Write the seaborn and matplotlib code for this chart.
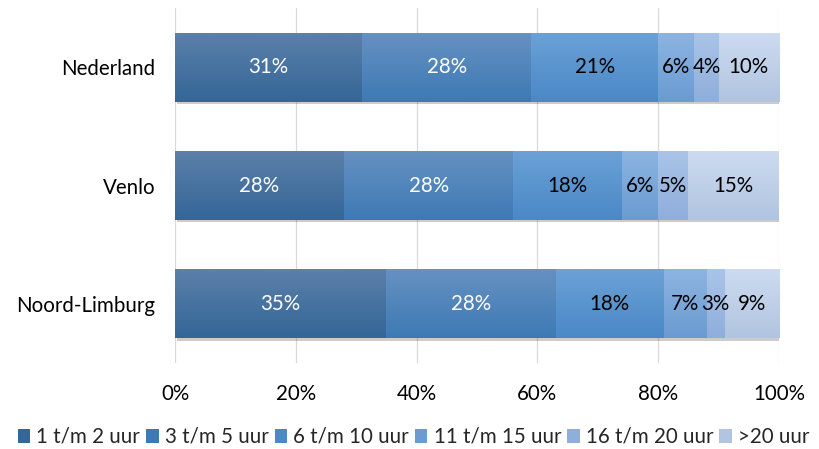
import numpy as np
import pandas as pd
import matplotlib
matplotlib.use("Agg")
import matplotlib.pyplot as plt
import matplotlib.patheffects as pe
from matplotlib.patches import Patch
from matplotlib.colors import to_rgb
import seaborn as sns

# Werkuren per week, verdeling in procenten
regions = ["Nederland", "Venlo", "Noord-Limburg"]
series = ["1 t/m 2 uur", "3 t/m 5 uur", "6 t/m 10 uur",
          "11 t/m 15 uur", "16 t/m 20 uur", ">20 uur"]
share_1_2 = [31, 28, 35]
share_3_5 = [28, 28, 28]
share_6_10 = [21, 18, 18]
share_11_15 = [6, 6, 7]
share_16_20 = [4, 5, 3]
share_20_plus = [10, 15, 9]
x_ticks = [0, 20, 40, 60, 80, 100]
x_tick_labels = ["0%", "20%", "40%", "60%", "80%", "100%"]

values = [share_1_2, share_3_5, share_6_10, share_11_15, share_16_20, share_20_plus]

# gradient colours per series (top -> bottom of each bar)
top_colors = ["#5b80a9", "#6691c1", "#6ba1d6", "#8db4e1", "#a9c4e7", "#ccdbf0"]
bottom_colors = ["#346698", "#3d7ab5", "#4a88c7", "#6a9bd1", "#8faedb", "#b1c4e0"]
label_colors = ["white", "white", "black", "black", "black", "black"]

FS = 14.8

sns.set_theme(style="white")
plt.rcParams["font.family"] = ["Lato", "DejaVu Sans"]

fig = plt.figure(figsize=(8.19, 4.49), dpi=100)
ax = fig.add_axes([175 / 819, 1 - 363 / 449, 604 / 819, 355 / 449])

left = np.zeros(len(regions))
for i, (name, vals) in enumerate(zip(series, values)):
    df = pd.DataFrame({"region": regions, "share": vals})
    n_before = len(ax.patches)
    sns.barplot(data=df, x="share", y="region", order=regions, orient="h",
                color=bottom_colors[i], saturation=1, width=0.583,
                errorbar=None, left=left.copy(), linewidth=0, ax=ax)
    top_rgb = np.array(to_rgb(top_colors[i]))
    bot_rgb = np.array(to_rgb(bottom_colors[i]))
    t = np.linspace(0, 1, 64)[:, None, None]
    grad = (1 - t) * top_rgb + t * bot_rgb
    for p in ax.patches[n_before:]:
        p.set_path_effects([pe.SimplePatchShadow(offset=(1.2, -1.6), shadow_rgbFace="k", alpha=0.22),
                            pe.Normal()])
        x0, y0 = p.get_x(), p.get_y()
        w, h = p.get_width(), p.get_height()
        im = ax.imshow(grad, extent=(x0, x0 + w, y0 + h, y0), origin="upper",
                       aspect="auto", interpolation="bilinear",
                       zorder=p.get_zorder() + 0.1)
        im.set_clip_path(p)
    for j, v in enumerate(vals):
        ax.text(left[j] + v / 2, j, f"{v}%", ha="center", va="center",
                fontsize=FS, color=label_colors[i], zorder=5)
    left += np.array(vals)

ax.set_xlim(0, 100)
ax.set_ylim(2.5, -0.5)
ax.set_xticks(x_ticks)
ax.set_xticklabels(x_tick_labels)
ax.set_xlabel("")
ax.set_ylabel("")
ax.set_axisbelow(True)
ax.xaxis.grid(True, color="#d9d9d9", linewidth=0.9)
ax.yaxis.grid(False)
for s in ax.spines.values():
    s.set_visible(False)
ax.tick_params(axis="x", length=0, pad=15, labelsize=FS, labelcolor="black")
ax.tick_params(axis="y", length=0, pad=14, labelsize=FS, labelcolor="black")

handles = [Patch(facecolor=bottom_colors[i], edgecolor="none") for i in range(len(series))]
fig.legend(handles, series, loc="center", bbox_to_anchor=(0.505, 0.027), ncol=6,
           frameon=False, fontsize=FS, handlelength=0.6, handleheight=0.65,
           handletextpad=0.3, columnspacing=0.3, borderaxespad=0)

fig.savefig("out.png", dpi=100)
